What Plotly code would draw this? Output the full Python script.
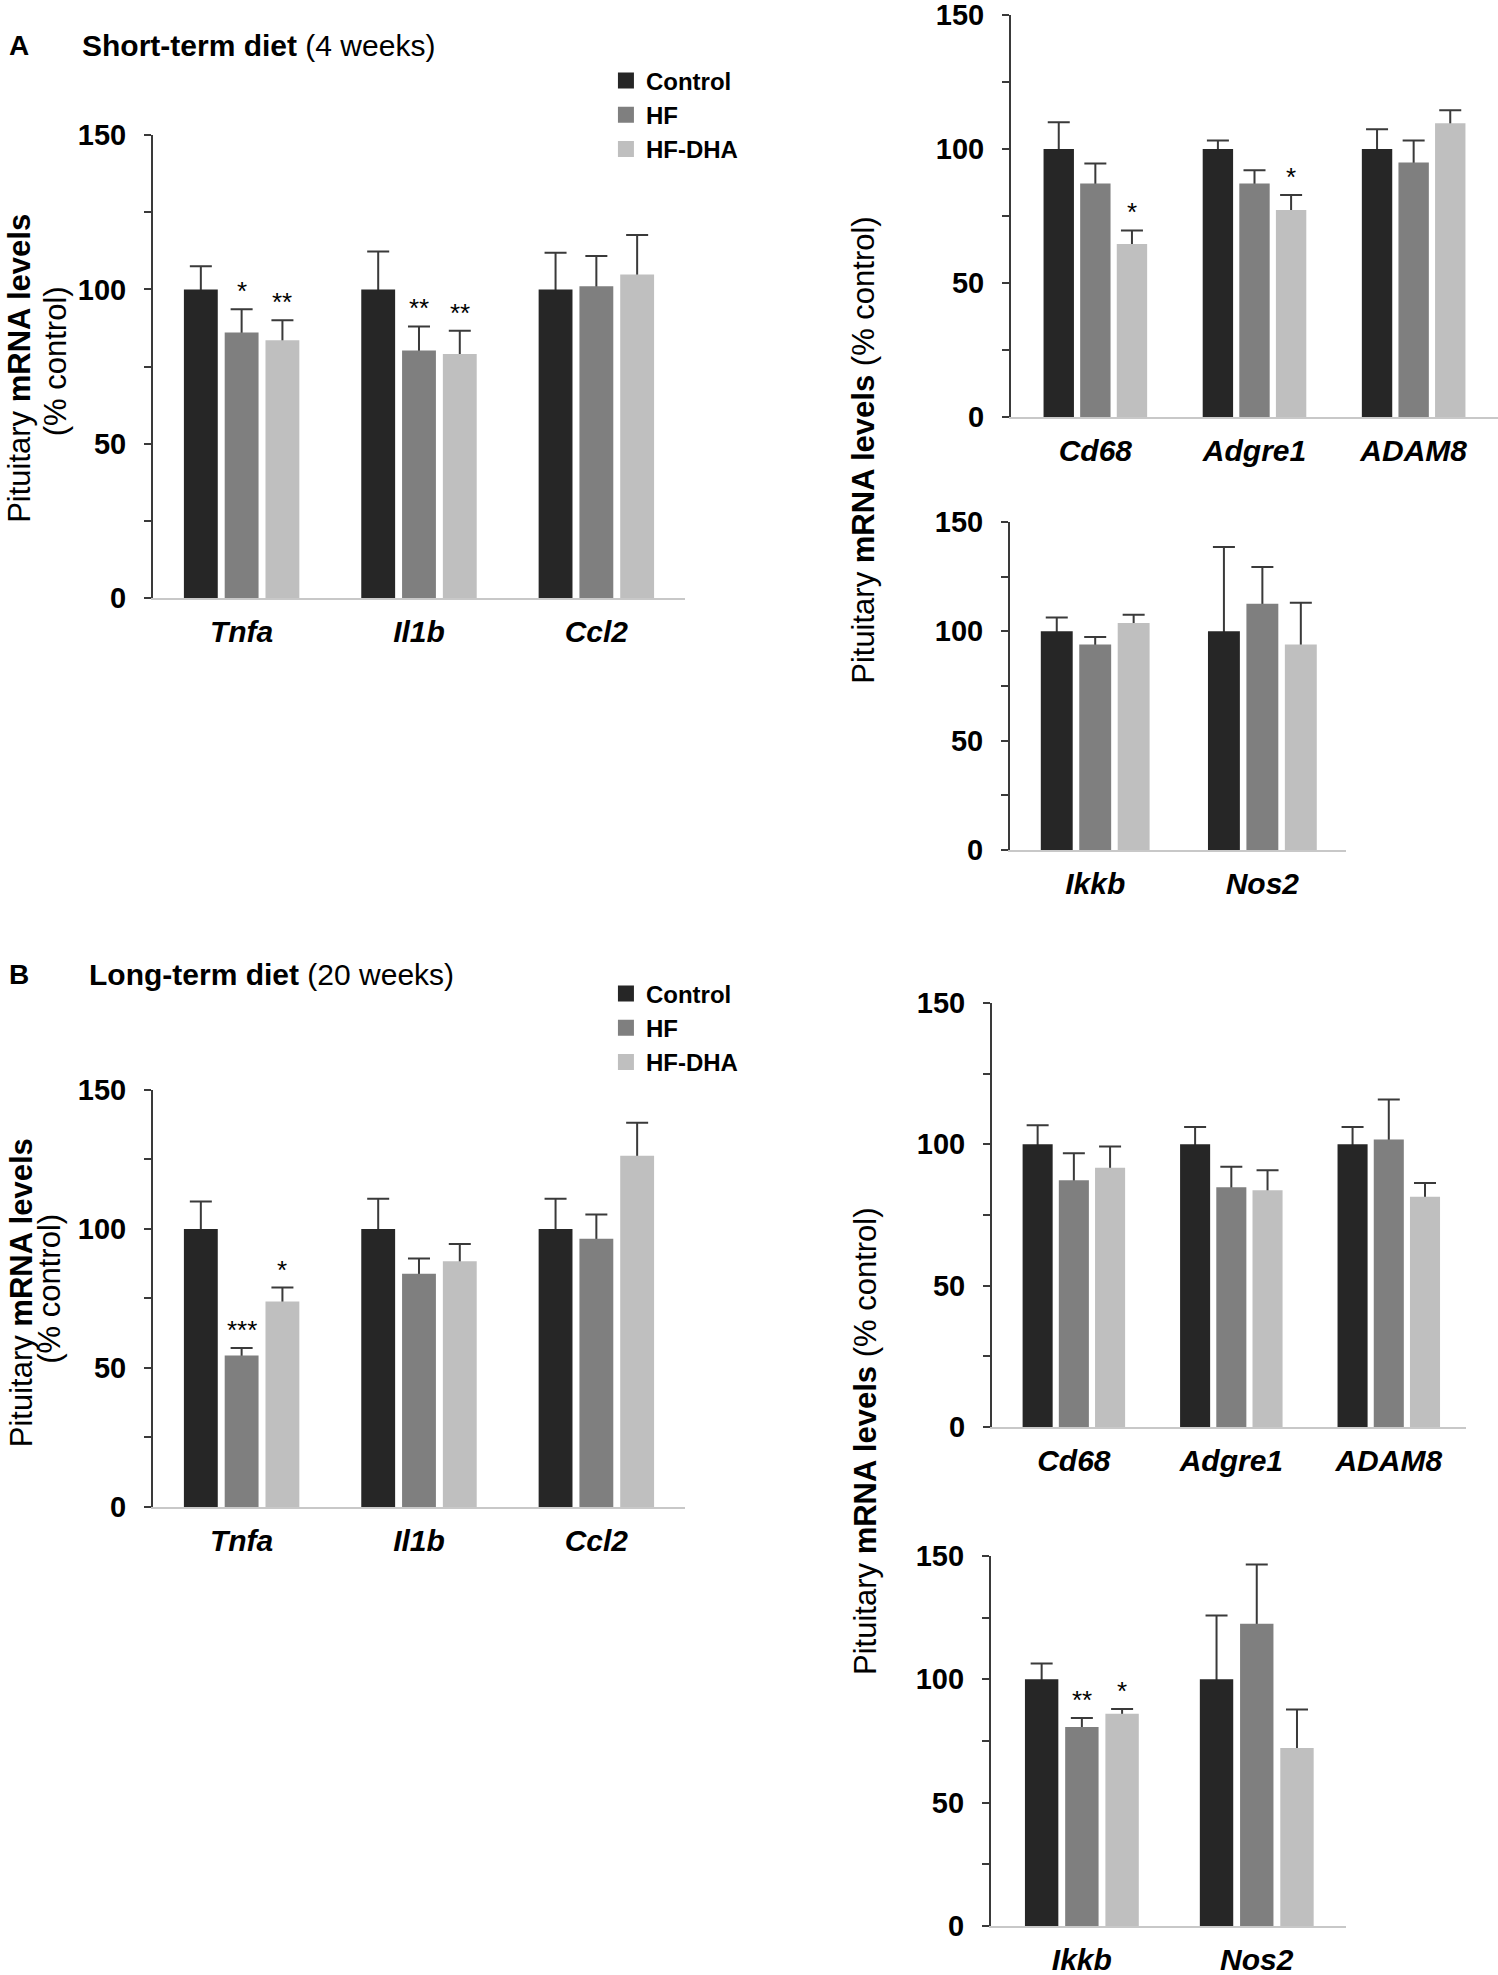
import plotly.graph_objects as go

FONT = "Liberation Sans, Arial, sans-serif"

# diet groups and bar colours
groups = ["Control", "HF", "HF-DHA"]
colors = ["#262626", "#7f7f7f", "#bfbfbf"]

# A - short-term diet, inflammatory cytokines
a1_genes = ["Tnfa", "Il1b", "Ccl2"]
a1_control = [100, 100, 100]
a1_hf = [86, 80.2, 101]
a1_dha = [83.5, 79.1, 104.8]
a1_control_err = [7.5, 12.3, 11.9]
a1_hf_err = [7.6, 7.8, 9.8]
a1_dha_err = [6.5, 7.5, 12.8]
a1_hf_stars = ["*", "**", ""]
a1_dha_stars = ["**", "**", ""]

# A - short-term diet, macrophage markers
a2_genes = ["Cd68", "Adgre1", "ADAM8"]
a2_control = [100, 100, 100]
a2_hf = [87.1, 87.1, 95]
a2_dha = [64.5, 77.2, 109.6]
a2_control_err = [10, 3.2, 7.4]
a2_hf_err = [7.5, 5, 8.2]
a2_dha_err = [5.1, 5.6, 4.9]
a2_hf_stars = ["", "", ""]
a2_dha_stars = ["*", "*", ""]

# A - short-term diet, Ikkb / Nos2
a3_genes = ["Ikkb", "Nos2"]
a3_control = [100, 100]
a3_hf = [94, 112.6]
a3_dha = [103.8, 94]
a3_control_err = [6.3, 38.6]
a3_hf_err = [3.4, 16.8]
a3_dha_err = [3.8, 19.1]
a3_hf_stars = ["", ""]
a3_dha_stars = ["", ""]

# B - long-term diet, inflammatory cytokines
b1_genes = ["Tnfa", "Il1b", "Ccl2"]
b1_control = [100, 100, 100]
b1_hf = [54.5, 83.9, 96.5]
b1_dha = [73.9, 88.4, 126.3]
b1_control_err = [9.9, 10.9, 10.9]
b1_hf_err = [2.7, 5.5, 8.7]
b1_dha_err = [5, 6.2, 11.9]
b1_hf_stars = ["***", "", ""]
b1_dha_stars = ["*", "", ""]

# B - long-term diet, macrophage markers
b2_genes = ["Cd68", "Adgre1", "ADAM8"]
b2_control = [100, 100, 100]
b2_hf = [87.3, 84.8, 101.7]
b2_dha = [91.7, 83.7, 81.4]
b2_control_err = [6.7, 6.1, 6.1]
b2_hf_err = [9.5, 7.2, 14.1]
b2_dha_err = [7.5, 7.1, 4.9]
b2_hf_stars = ["", "", ""]
b2_dha_stars = ["", "", ""]

# B - long-term diet, Ikkb / Nos2
b3_genes = ["Ikkb", "Nos2"]
b3_control = [100, 100]
b3_hf = [80.7, 122.5]
b3_dha = [86, 72.2]
b3_control_err = [6.4, 25.9]
b3_hf_err = [3.6, 24]
b3_dha_err = [2, 15.6]
b3_hf_stars = ["**", ""]
b3_dha_stars = ["*", ""]

y_ticks = [0, 50, 100, 150]
y_minor = [25, 75, 125]

BARGAP = 0.31
BARGROUPGAP = 0.17

# genes, means, errors, stars, x domain, y domain, x range
panels = [
    (a1_genes, [a1_control, a1_hf, a1_dha], [a1_control_err, a1_hf_err, a1_dha_err],
     [None, a1_hf_stars, a1_dha_stars], [0.1021, 0.4573], [0.6972, 0.9316], [-0.5, 2.5]),
    (a2_genes, [a2_control, a2_hf, a2_dha], [a2_control_err, a2_hf_err, a2_dha_err],
     [None, a2_hf_stars, a2_dha_stars], [0.6749, 1.0], [0.7889, 0.9924], [-0.53, 2.53]),
    (a3_genes, [a3_control, a3_hf, a3_dha], [a3_control_err, a3_hf_err, a3_dha_err],
     [None, a3_hf_stars, a3_dha_stars], [0.6742, 0.8985], [0.5696, 0.7357], [-0.51, 1.5]),
    (b1_genes, [b1_control, b1_hf, b1_dha], [b1_control_err, b1_hf_err, b1_dha_err],
     [None, b1_hf_stars, b1_dha_stars], [0.1021, 0.4573], [0.2370, 0.4481], [-0.5, 2.5]),
    (b2_genes, [b2_control, b2_hf, b2_dha], [b2_control_err, b2_hf_err, b2_dha_err],
     [None, b2_hf_stars, b2_dha_stars], [0.6622, 0.9786], [0.2775, 0.4922], [-0.52, 2.49]),
    (b3_genes, [b3_control, b3_hf, b3_dha], [b3_control_err, b3_hf_err, b3_dha_err],
     [None, b3_hf_stars, b3_dha_stars], [0.6615, 0.8985], [0.0248, 0.2122], [-0.52, 1.51]),
]

fig = go.Figure()
annotations = []
layout_axes = {}

for k, (genes, means, errs, stars, xdom, ydom, xrange_) in enumerate(panels, start=1):
    xa = "x" if k == 1 else f"x{k}"
    ya = "y" if k == 1 else f"y{k}"
    for i, g in enumerate(groups):
        # transparent carrier for the error bar, drawn first so the real bar hides the lower cap
        fig.add_trace(go.Bar(
            x=genes, y=means[i], xaxis=xa, yaxis=ya, offsetgroup=g,
            marker=dict(color="rgba(0,0,0,0)", line=dict(width=0)),
            error_y=dict(type="data", symmetric=False, array=errs[i],
                         arrayminus=[1.5] * len(genes), color="#3a3a3a",
                         thickness=2, width=11),
            showlegend=False, hoverinfo="skip",
        ))
        fig.add_trace(go.Bar(
            x=genes, y=means[i], xaxis=xa, yaxis=ya, offsetgroup=g,
            name=g, marker=dict(color=colors[i], line=dict(width=0)),
            showlegend=False,
        ))
        # significance stars above the error bars
        if stars[i]:
            for j, s in enumerate(stars[i]):
                if not s:
                    continue
                annotations.append(dict(
                    x=j + (i - 1) * (1 - BARGAP) / 3, y=means[i][j] + errs[i][j],
                    xref=xa, yref=ya, text=s, showarrow=False,
                    xanchor="center", yanchor="middle", yshift=18,
                    font=dict(family=FONT, size=26, color="black"),
                ))

    layout_axes["xaxis" if k == 1 else f"xaxis{k}"] = dict(
        domain=xdom, anchor=ya, type="category", range=xrange_, automargin=False,
        showline=True, linecolor="#c8c8c8", linewidth=2,
        ticks="", showgrid=False, zeroline=False, ticklabelstandoff=6,
        tickfont=dict(family=FONT, size=30, color="black", weight="bold", style="italic"),
    )
    layout_axes["yaxis" if k == 1 else f"yaxis{k}"] = dict(
        domain=ydom, anchor=xa, range=[0, 150], tickvals=y_ticks, automargin=False,
        ticks="outside", ticklen=7, tickwidth=2, tickcolor="#3a3a3a",
        minor=dict(tickvals=y_minor, ticks="outside", ticklen=7, tickwidth=2, tickcolor="#3a3a3a"),
        showline=True, linecolor="#3a3a3a", linewidth=2,
        showgrid=False, zeroline=False, ticklabelstandoff=12, ticklabeloverflow="allow",
        tickfont=dict(family=FONT, size=29, color="black", weight="bold"),
    )

# legend entries (one legend per diet panel)
for legend_name in ["legend", "legend2"]:
    for g, c in zip(groups, colors):
        fig.add_trace(go.Scatter(
            x=[None], y=[None], mode="markers", name=g, legend=legend_name,
            marker=dict(symbol="square", size=16, color=c),
        ))

# panel headings
annotations += [
    dict(x=0.0047, y=0.9772, text="<b>A</b>", xanchor="left",
         font=dict(family=FONT, size=28, color="black")),
    dict(x=0.0534, y=0.9772, text="<b>Short-term diet</b> (4 weeks)", xanchor="left",
         font=dict(family=FONT, size=30, color="black")),
    dict(x=0.0047, y=0.5068, text="<b>B</b>", xanchor="left",
         font=dict(family=FONT, size=28, color="black")),
    dict(x=0.0580, y=0.5068, text="<b>Long-term diet</b> (20 weeks)", xanchor="left",
         font=dict(family=FONT, size=30, color="black")),
]

# y-axis titles
ytitle_font = dict(family=FONT, size=31, color="black")
annotations += [
    dict(x=0.0133, y=0.8137, text="Pituitary <b>mRNA levels</b>", textangle=-90, font=ytitle_font),
    dict(x=0.0370, y=0.8173, text="(% control)", textangle=-90, font=ytitle_font),
    dict(x=0.0143, y=0.3454, text="Pituitary <b>mRNA levels</b>", textangle=-90, font=ytitle_font),
    dict(x=0.0333, y=0.3474, text="(% control)", textangle=-90, font=ytitle_font),
    dict(x=0.5767, y=0.7722, text="Pituitary <b>mRNA levels</b> (% control)",
         textangle=-90, font=ytitle_font),
    dict(x=0.5781, y=0.2704, text="Pituitary <b>mRNA levels</b> (% control)",
         textangle=-90, font=ytitle_font),
]
for a in annotations:
    a.setdefault("xref", "paper")
    a.setdefault("yref", "paper")
    a.setdefault("xanchor", "center")
    a.setdefault("yanchor", "middle")
    a.setdefault("showarrow", False)

legend_style = dict(
    xanchor="left", yanchor="top", bgcolor="rgba(0,0,0,0)", traceorder="normal",
    itemwidth=30, tracegroupgap=0,
    font=dict(family=FONT, size=24, color="black", weight="bold"),
)

fig.update_layout(
    width=1498, height=1975,
    margin=dict(l=0, r=0, t=0, b=0, pad=0, autoexpand=False),
    barmode="group", bargap=BARGAP, bargroupgap=BARGROUPGAP,
    plot_bgcolor="white", paper_bgcolor="white",
    legend=dict(x=0.4045, y=0.9704, **legend_style),
    legend2=dict(x=0.4045, y=0.5081, **legend_style),
    annotations=annotations,
    **layout_axes,
)

# drop the default page margin so the figure fills the window exactly
fig.write_html("out.html", config={"displayModeBar": False},
               post_script="document.body.style.margin = '0';")
